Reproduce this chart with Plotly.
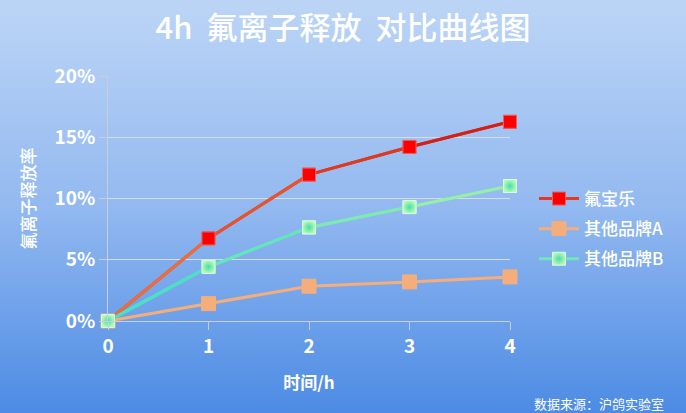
import base64
import plotly.graph_objects as go

# Data
hours = [0, 1, 2, 3, 4]
fubaole = [0.0, 0.0674, 0.1195, 0.1421, 0.1626]
brand_a = [0.0, 0.0142, 0.0284, 0.0319, 0.0360]
brand_b = [0.0, 0.0442, 0.0764, 0.0930, 0.1102]
series_names = ["氟宝乐", "其他品牌A", "其他品牌B"]

W, H = 686, 413
L, R, T, B = 108, 176, 76, 92
FONT = "Noto Sans CJK SC"

# blue vertical gradient background as inline svg
svg = (
    f'<svg xmlns="http://www.w3.org/2000/svg" width="{W}" height="{H}">'
    '<defs><linearGradient id="g" x1="0" y1="0" x2="0" y2="1">'
    '<stop offset="0" stop-color="#BCD5F6"/>'
    '<stop offset="0.5" stop-color="#93B9F0"/>'
    '<stop offset="1" stop-color="#4C8BE4"/>'
    '</linearGradient></defs>'
    f'<rect width="{W}" height="{H}" fill="url(#g)"/></svg>'
)
bg_src = "data:image/svg+xml;base64," + base64.b64encode(svg.encode()).decode()

pw, ph = W - L - R, H - T - B


def mix(c1, c2, t):
    a = [int(c1[i:i + 2], 16) for i in (1, 3, 5)]
    b = [int(c2[i:i + 2], 16) for i in (1, 3, 5)]
    return "#" + "".join(f"{round(x + (y - x) * t):02X}" for x, y in zip(a, b))


def gradient_segments(xs, ys, c_start, c_end):
    n = len(xs) - 1
    for i in range(n):
        fig.add_trace(go.Scatter(
            x=xs[i:i + 2], y=ys[i:i + 2], mode="lines", showlegend=False,
            hoverinfo="skip", line=dict(color=mix(c_start, c_end, (i + 0.5) / n), width=3),
            cliponaxis=False,
        ))


red_marker = dict(symbol="square", size=13, color="#FF0000",
                  line=dict(color="#E86060", width=1))
orange_marker = dict(symbol="square", size=14, color="#F4AE7C",
                     line=dict(color="#F4AE7C", width=1))
green_marker = dict(symbol="square", size=13, color="#B6FBB0",
                    gradient=dict(type="radial", color="#44DDB4"),
                    line=dict(color="#D8F8E8", width=1))

fig = go.Figure()

# legend-bearing traces (lines get covered by the gradient segments)
fig.add_trace(go.Scatter(
    x=hours, y=fubaole, name=series_names[0], mode="lines+markers", legendgroup="a",
    line=dict(color="#E23A2A", width=3), marker=red_marker, cliponaxis=False,
))
fig.add_trace(go.Scatter(
    x=hours, y=brand_a, name=series_names[1], mode="lines+markers", legendgroup="b",
    line=dict(color="#F4AE7C", width=3), marker=orange_marker, cliponaxis=False,
))
fig.add_trace(go.Scatter(
    x=hours, y=brand_b, name=series_names[2], mode="lines+markers", legendgroup="c",
    line=dict(color="#6FE6BC", width=3), marker=green_marker, cliponaxis=False,
))

gradient_segments(hours, fubaole, "#F47A3E", "#CC1414")
gradient_segments(hours, brand_b, "#3CDFCA", "#A6F0A2")

# markers on top
for ys, mk in ((fubaole, red_marker), (brand_b, green_marker)):
    fig.add_trace(go.Scatter(x=hours, y=ys, mode="markers", marker=mk,
                             showlegend=False, cliponaxis=False))

fig.update_layout(
    width=W, height=H,
    margin=dict(l=L, r=R, t=T, b=B),
    paper_bgcolor="#93B9F0",
    plot_bgcolor="rgba(0,0,0,0)",
    font=dict(family=FONT, color="white"),
    title=dict(text="4h  氟离子释放  对比曲线图", x=0.5, xanchor="center",
               y=1 - 28 / H, yanchor="middle",
               font=dict(size=31, color="white", family=FONT, weight=500)),
    showlegend=True,
    legend=dict(x=1 + 24 / pw, xanchor="left", y=1 - (198 - T - 17) / ph, yanchor="top",
                bgcolor="rgba(0,0,0,0)", font=dict(size=17, color="white", weight=500),
                tracegroupgap=5, itemwidth=40),
    images=[dict(source=bg_src, xref="paper", yref="paper",
                 x=-L / pw, y=1 + T / ph, sizex=W / pw, sizey=H / ph,
                 sizing="stretch", layer="below", xanchor="left", yanchor="top")],
    annotations=[dict(text="数据来源：沪鸽实验室", xref="paper", yref="paper",
                      x=(W - 20 - L) / pw, y=-(403 - (H - B)) / ph,
                      xanchor="right", yanchor="middle", showarrow=False,
                      font=dict(size=13, color="white"))],
)

fig.update_xaxes(
    range=[0, 4], tickvals=hours, showgrid=False, zeroline=False,
    showline=True, linecolor="#C8CED8", linewidth=1,
    ticks="outside", ticklen=8, tickcolor="#C8CED8",
    tickfont=dict(size=19, color="white", family=FONT, weight="bold"),
    title=dict(text="时间/h", font=dict(size=17, color="white", family=FONT, weight="bold"),
               standoff=20),
)
fig.update_yaxes(
    range=[0, 0.2], dtick=0.05, tickformat=".0%",
    showgrid=True, gridcolor="#D6DCE4", gridwidth=1, zeroline=False,
    showline=True, linecolor="#C8CED8", linewidth=1,
    ticks="outside", ticklen=8, tickcolor="#C8CED8",
    tickfont=dict(size=19, color="white", family=FONT, weight="bold"),
    title=dict(text="氟离子释放率", font=dict(size=17, color="white", family=FONT, weight=500),
               standoff=14),
)

fig.write_html("out.html", config={"displayModeBar": False},
               post_script="document.body.style.margin='0';")
